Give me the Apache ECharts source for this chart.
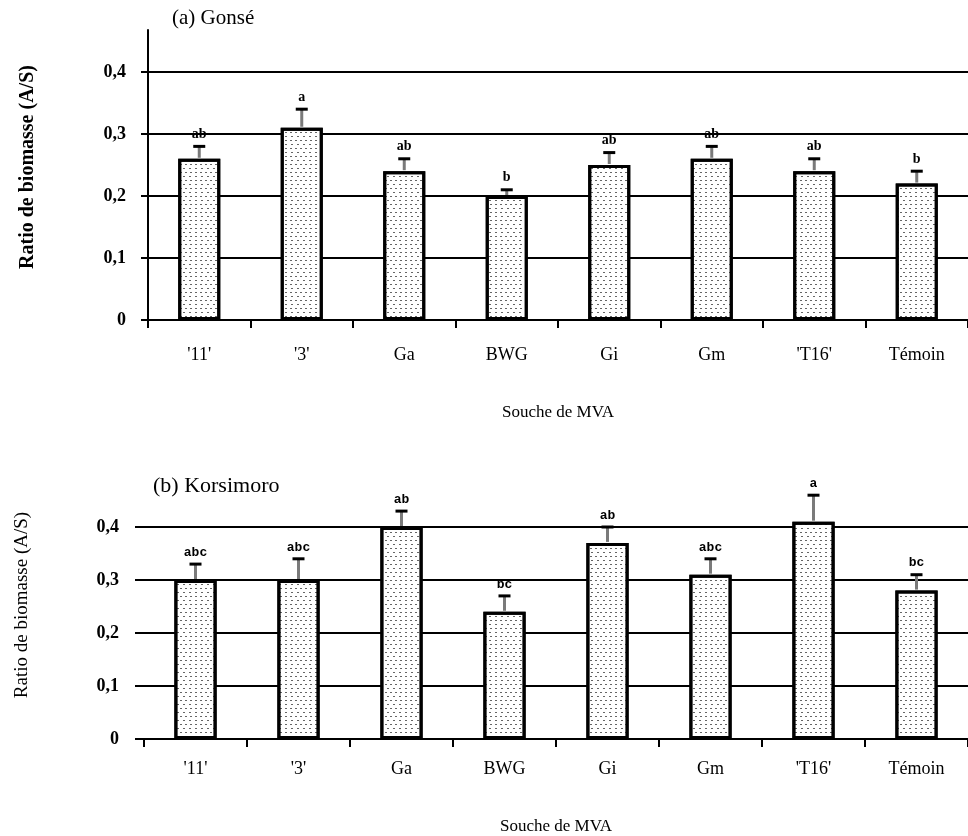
<!DOCTYPE html>
<html>
<head>
<meta charset="utf-8">
<script src="https://cdn.jsdelivr.net/npm/echarts@6/dist/echarts.min.js"></script>
<style>
  html, body { margin: 0; padding: 0; background: #fff; }
  #chart { width: 968px; height: 836px; }
</style>
</head>
<body>
<div id="chart"></div>
<script>
const categories = ["'11'", "'3'", "Ga", "BWG", "Gi", "Gm", "'T16'", "Témoin"];
const gonseMeans = [0.26, 0.31, 0.24, 0.20, 0.25, 0.26, 0.24, 0.22];
const gonseErrors = [0.02, 0.03, 0.02, 0.01, 0.02, 0.02, 0.02, 0.02];
const gonseLetters = ['ab', 'a', 'ab', 'b', 'ab', 'ab', 'ab', 'b'];
const korsMeans = [0.30, 0.30, 0.40, 0.24, 0.37, 0.31, 0.41, 0.28];
const korsErrors = [0.03, 0.04, 0.03, 0.03, 0.03, 0.03, 0.05, 0.03];
const korsLetters = ['abc', 'abc', 'ab', 'bc', 'ab', 'abc', 'a', 'bc'];
const yTicks = [0, 0.1, 0.2, 0.3, 0.4];

const SERIF = '"Liberation Serif", "DejaVu Serif", serif';
const chart = echarts.init(document.getElementById('chart'), null, { renderer: 'canvas' });

const decal = {
  symbol: 'rect',
  symbolSize: 1,
  color: 'rgba(0,0,0,0.6)',
  dashArrayX: [[2, 3], [0, 2.5, 2, 0.5]],
  dashArrayY: [1, 2.5],
  rotation: 0
};

function fmt(v) {
  return v === 0 ? '0' : v.toFixed(1).replace('.', ',');
}

function errorSeries(idx, means, errors, letters, font) {
  return {
    type: 'custom',
    xAxisIndex: idx,
    yAxisIndex: idx,
    clip: false,
    z: 5,
    data: means.map((m, i) => [i, m, m + errors[i], letters[i]]),
    renderItem: function (params, api) {
      const base = api.coord([api.value(0), api.value(1)]);
      const top = api.coord([api.value(0), api.value(2)]);
      const letter = letters[params.dataIndex];
      return {
        type: 'group',
        children: [
          { type: 'line', shape: { x1: base[0], y1: base[1] - 1, x2: top[0], y2: top[1] },
            style: { stroke: '#7a7a7a', lineWidth: 3 } },
          { type: 'line', shape: { x1: top[0] - 6, y1: top[1], x2: top[0] + 6, y2: top[1] },
            style: { stroke: '#000', lineWidth: 3 } },
          { type: 'text', x: top[0], y: top[1] - 5,
            style: { text: letter, font: font, fill: '#000', align: 'center', verticalAlign: 'bottom' } }
        ]
      };
    }
  };
}

const option = {
  animation: false,
  backgroundColor: '#fff',
  grid: [
    { left: 148, top: 30, width: 828, height: 290 },
    { left: 144, top: 527, width: 836, height: 220 }
  ],
  xAxis: [
    {
      type: 'category', gridIndex: 0, data: categories, boundaryGap: true,
      axisLine: { show: true, lineStyle: { color: '#000', width: 2 } },
      axisTick: { show: true, length: 8, lineStyle: { color: '#000', width: 2 } },
      axisLabel: { color: '#000', fontFamily: SERIF, fontSize: 18, margin: 26 },
      name: 'Souche de MVA', nameLocation: 'middle', nameGap: 84,
      nameTextStyle: { color: '#000', fontFamily: SERIF, fontSize: 17 }
    },
    {
      type: 'category', gridIndex: 1, data: categories, boundaryGap: true,
      axisLine: { show: true, lineStyle: { color: '#000', width: 2 } },
      axisTick: { show: true, length: 8, lineStyle: { color: '#000', width: 2 } },
      axisLabel: { color: '#000', fontFamily: SERIF, fontSize: 18, margin: 21 },
      name: 'Souche de MVA', nameLocation: 'middle', nameGap: 79,
      nameTextStyle: { color: '#000', fontFamily: SERIF, fontSize: 17 }
    }
  ],
  yAxis: [
    {
      type: 'value', gridIndex: 0, min: 0, max: 0.4677,
      axisLine: { show: true, lineStyle: { color: '#000', width: 2 } },
      axisTick: { show: true, length: 7, customValues: yTicks, lineStyle: { color: '#000', width: 2 } },
      axisLabel: { customValues: yTicks, color: '#000', fontFamily: SERIF, fontWeight: 'bold', fontSize: 18, margin: 22, formatter: fmt },
      splitLine: { show: true, lineStyle: { color: '#000', width: 2 } }
    },
    {
      type: 'value', gridIndex: 1, min: 0, max: 0.4, interval: 0.1,
      axisLine: { show: false },
      axisTick: { show: true, length: 9, lineStyle: { color: '#000', width: 2 } },
      axisLabel: { color: '#000', fontFamily: SERIF, fontWeight: 'bold', fontSize: 18, margin: 25, formatter: fmt },
      splitLine: { show: true, lineStyle: { color: '#000', width: 2 } }
    }
  ],
  graphic: [
    { type: 'text', x: 172, y: 8, style: { text: '(a) Gonsé', font: '21px ' + SERIF, fill: '#000' } },
    { type: 'text', x: 153, y: 475, style: { text: '(b) Korsimoro', font: '22px ' + SERIF, fill: '#000' } },
    { type: 'text', x: 28, y: 167, rotation: Math.PI / 2,
      style: { text: 'Ratio de biomasse (A/S)', font: 'bold 20px ' + SERIF, fill: '#000', align: 'center', verticalAlign: 'middle' } },
    { type: 'text', x: 22, y: 605, rotation: Math.PI / 2,
      style: { text: 'Ratio de biomasse (A/S)', font: '19px ' + SERIF, fill: '#000', align: 'center', verticalAlign: 'middle' } }
  ],
  series: [
    {
      type: 'bar', xAxisIndex: 0, yAxisIndex: 0, data: gonseMeans, barWidth: '41%', clip: false,
      itemStyle: { color: '#fff', borderColor: '#000', borderWidth: 3, decal: decal }
    },
    {
      type: 'bar', xAxisIndex: 1, yAxisIndex: 1, data: korsMeans, barWidth: '41%', clip: false,
      itemStyle: { color: '#fff', borderColor: '#000', borderWidth: 3, decal: decal }
    },
    errorSeries(0, gonseMeans, gonseErrors, gonseLetters, 'bold 14px ' + SERIF),
    errorSeries(1, korsMeans, korsErrors, korsLetters, 'bold 13px "Liberation Mono", monospace')
  ]
};
chart.setOption(option);
</script>
</body>
</html>
